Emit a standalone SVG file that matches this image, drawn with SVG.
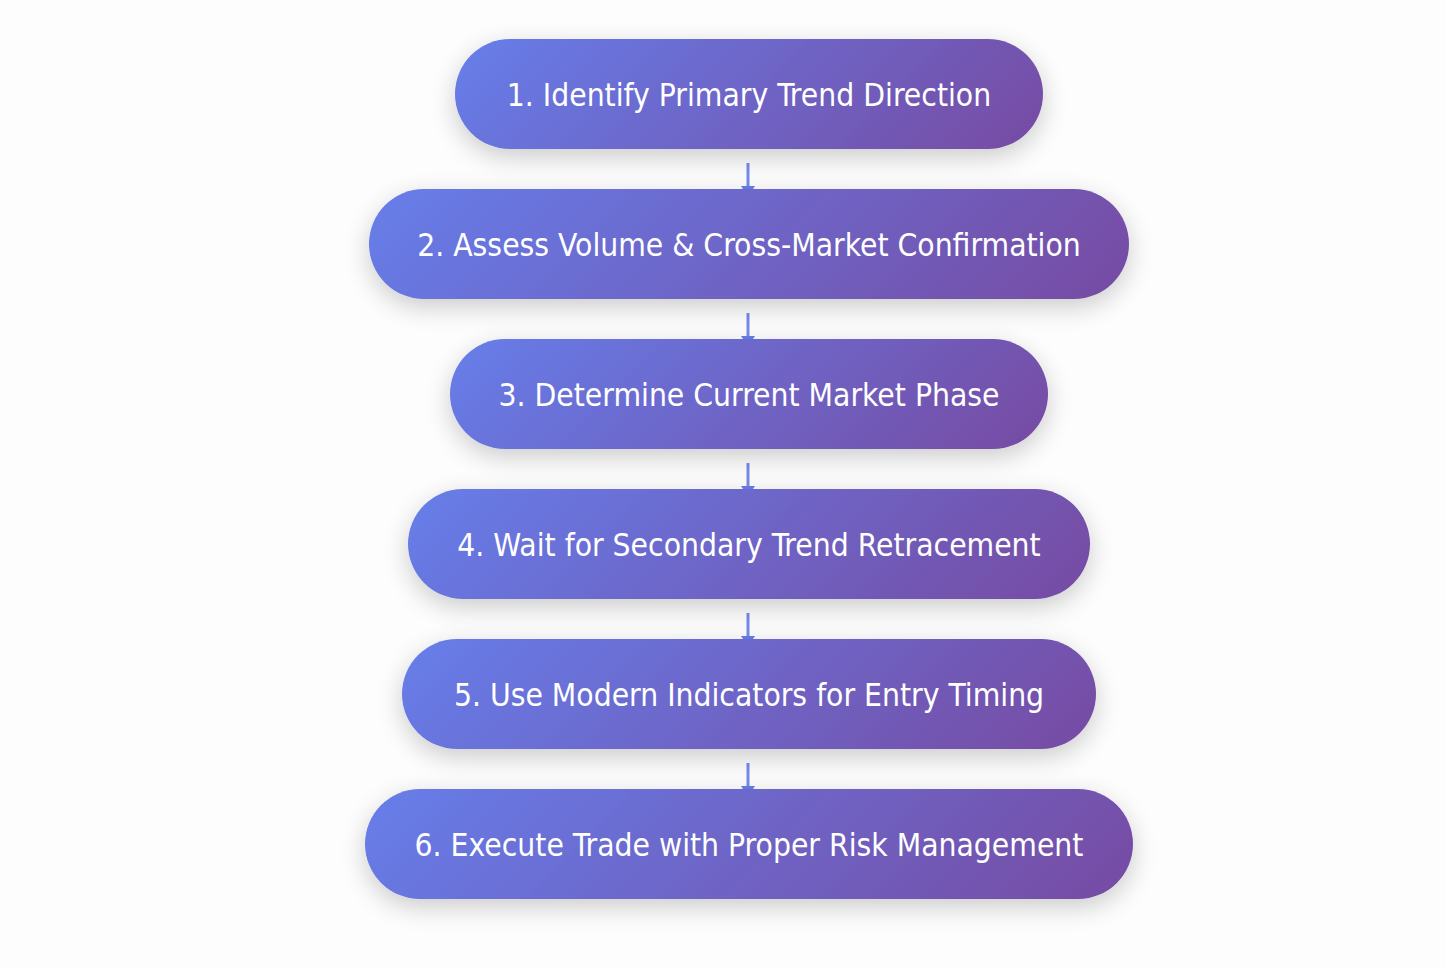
<svg xmlns="http://www.w3.org/2000/svg" width="1446" height="968" viewBox="0 0 1446 968">
<defs>
<linearGradient id="g1" gradientUnits="userSpaceOnUse" x1="574.5" y1="-80.5" x2="923.5" y2="268.5"><stop offset="0" stop-color="#667eea"/><stop offset="1" stop-color="#764ba2"/></linearGradient>
<linearGradient id="g2" gradientUnits="userSpaceOnUse" x1="531.5" y1="26.5" x2="966.5" y2="461.5"><stop offset="0" stop-color="#667eea"/><stop offset="1" stop-color="#764ba2"/></linearGradient>
<linearGradient id="g3" gradientUnits="userSpaceOnUse" x1="572" y1="217" x2="926" y2="571"><stop offset="0" stop-color="#667eea"/><stop offset="1" stop-color="#764ba2"/></linearGradient>
<linearGradient id="g4" gradientUnits="userSpaceOnUse" x1="551" y1="346" x2="947" y2="742"><stop offset="0" stop-color="#667eea"/><stop offset="1" stop-color="#764ba2"/></linearGradient>
<linearGradient id="g5" gradientUnits="userSpaceOnUse" x1="548" y1="493" x2="950" y2="895"><stop offset="0" stop-color="#667eea"/><stop offset="1" stop-color="#764ba2"/></linearGradient>
<linearGradient id="g6" gradientUnits="userSpaceOnUse" x1="529.5" y1="624.5" x2="968.5" y2="1063.5"><stop offset="0" stop-color="#667eea"/><stop offset="1" stop-color="#764ba2"/></linearGradient>
<filter id="sh" x="-20%" y="-50%" width="140%" height="220%">
<feGaussianBlur in="SourceAlpha" stdDeviation="13"/>
<feOffset dy="8" result="b"/>
<feComponentTransfer><feFuncA type="linear" slope="0.2"/></feComponentTransfer>
<feMerge><feMergeNode/><feMergeNode in="SourceGraphic"/></feMerge>
</filter>
</defs>
<style>
.n{filter:url(#sh)}
.t{fill:#fff;font-family:"DejaVu Sans",sans-serif;font-stretch:condensed;font-size:31.5px;text-anchor:middle;dominant-baseline:central}
.c{stroke:#667eea;stroke-width:3;fill:none;opacity:0.9}
.a{fill:#667eea}
</style>
<rect width="1446" height="968" fill="#fdfdfd"/>
<g id="connectors">
<line class="c" x1="748" y1="163" x2="748" y2="187"/>
<path class="a" d="M741,186 L755,186 L753,189 L743,189 Z"/>
<line class="c" x1="748" y1="313" x2="748" y2="337"/>
<path class="a" d="M741,336 L755,336 L753,339 L743,339 Z"/>
<line class="c" x1="748" y1="463" x2="748" y2="487"/>
<path class="a" d="M741,486 L755,486 L753,489 L743,489 Z"/>
<line class="c" x1="748" y1="613" x2="748" y2="637"/>
<path class="a" d="M741,636 L755,636 L753,639 L743,639 Z"/>
<line class="c" x1="748" y1="763" x2="748" y2="787"/>
<path class="a" d="M741,786 L755,786 L753,789 L743,789 Z"/>
</g>
<g id="node1"><rect class="n" fill="url(#g1)" x="455" y="39" width="588" height="110" rx="55"/><text class="t" x="749" y="95">1. Identify Primary Trend Direction</text></g>
<g id="node2"><rect class="n" fill="url(#g2)" x="369" y="189" width="760" height="110" rx="55"/><text class="t" x="749" y="245">2. Assess Volume &amp; Cross-Market Confirmation</text></g>
<g id="node3"><rect class="n" fill="url(#g3)" x="450" y="339" width="598" height="110" rx="55"/><text class="t" x="749" y="395">3. Determine Current Market Phase</text></g>
<g id="node4"><rect class="n" fill="url(#g4)" x="408" y="489" width="682" height="110" rx="55"/><text class="t" x="749" y="545">4. Wait for Secondary Trend Retracement</text></g>
<g id="node5"><rect class="n" fill="url(#g5)" x="402" y="639" width="694" height="110" rx="55"/><text class="t" x="749" y="695">5. Use Modern Indicators for Entry Timing</text></g>
<g id="node6"><rect class="n" fill="url(#g6)" x="365" y="789" width="768" height="110" rx="55"/><text class="t" x="749" y="845">6. Execute Trade with Proper Risk Management</text></g>
</svg>
